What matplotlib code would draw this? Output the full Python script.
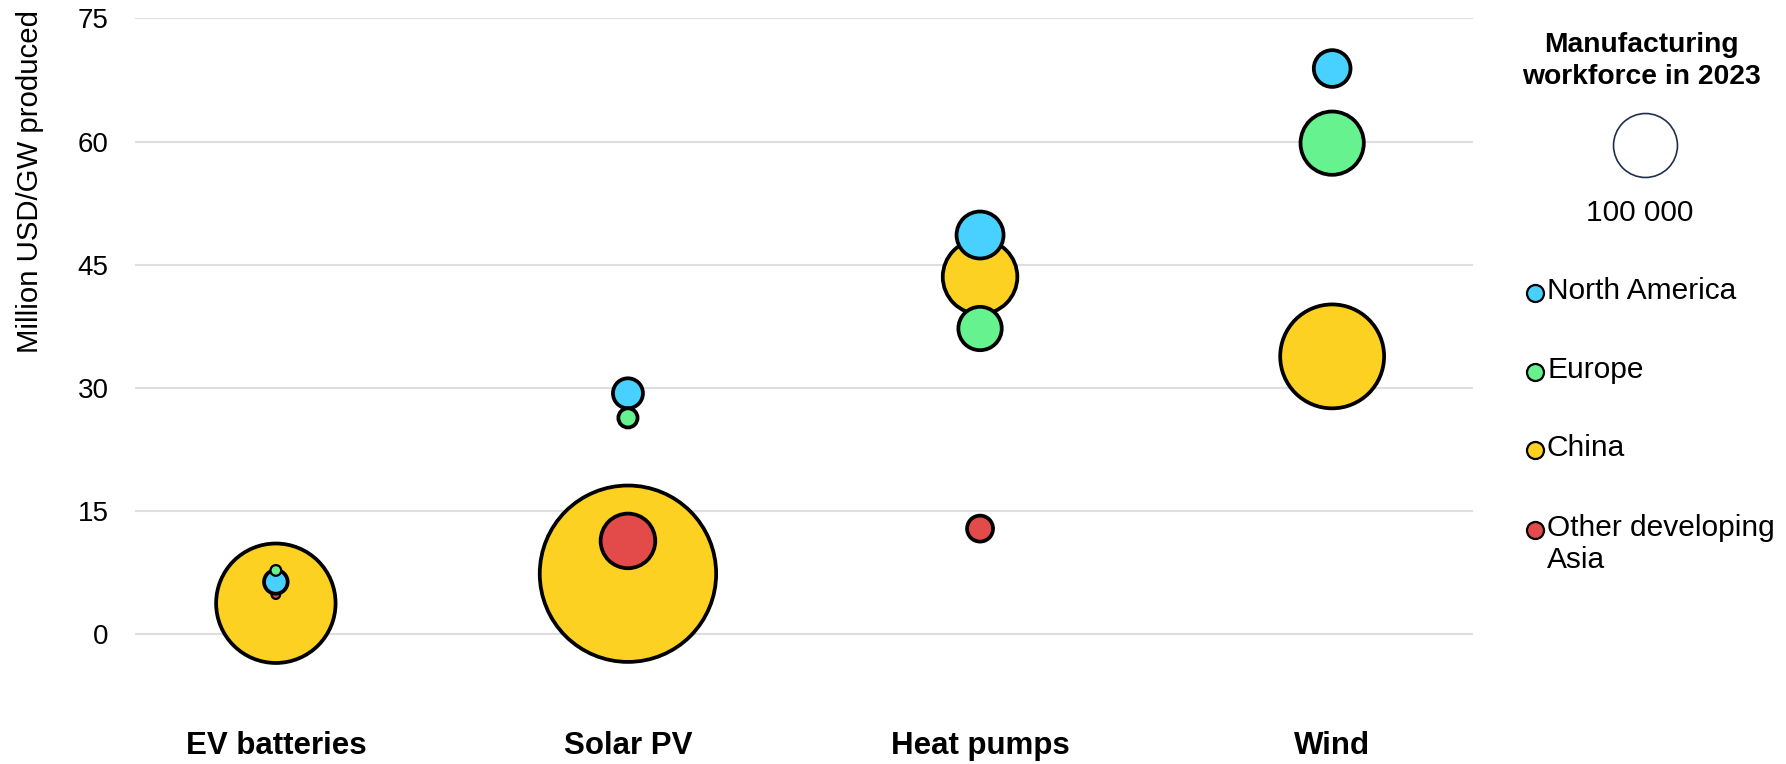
import matplotlib.pyplot as plt

plt.rcParams['font.family'] = ['Liberation Sans', 'DejaVu Sans']

categories = ['EV batteries', 'Solar PV', 'Heat pumps', 'Wind']
regions = ['North America', 'Europe', 'China', 'Other developing\nAsia']
colors = ['#48D1FF', '#66F28F', '#FCD122', '#E34B4B']

# million USD per GW produced
north_america = [6.3, 29.3, 48.6, 68.9]
europe = [7.7, 26.3, 37.2, 59.8]
china = [3.7, 7.3, 43.5, 33.8]
other_asia = [4.75, 11.3, 12.8, None]

# manufacturing workforce 2023, thousands
north_america_jobs = [13.6, 22, 54, 33]
europe_jobs = [2.8, 9, 46, 98]
china_jobs = [349, 761, 136, 264]
other_asia_jobs = [1.8, 73, 16.5, None]

ref_jobs = 100  # legend bubble, thousands
size_per_k = 21.2  # scatter area (pt^2) per thousand workers

W, H = 1786, 764
fig = plt.figure(figsize=(W / 100, H / 100), dpi=100)
ax = fig.add_axes([135 / W, 1 - 732 / H, (1473 - 135) / W, 713.5 / H])

x = [1, 2, 3, 4]
series = [
    (china, china_jobs, colors[2]),
    (other_asia, other_asia_jobs, colors[3]),
    (north_america, north_america_jobs, colors[0]),
    (europe, europe_jobs, colors[1]),
]
for vals, jobs, col in series:
    xs = [xi for xi, v in zip(x, vals) if v is not None]
    ys = [v for v in vals if v is not None]
    ss = [j * size_per_k for j in jobs if j is not None]
    lws = [1.6 if j < 5 else 2.7 for j in jobs if j is not None]
    ax.scatter(xs, ys, s=ss, color=col, edgecolor='black', linewidths=lws, zorder=3)

ax.set_xlim(0.6, 4.4)
ax.set_ylim(-12, 75)
ax.set_yticks([0, 15, 30, 45, 60, 75])
ax.set_xticks(x)
ax.set_xticklabels(categories, fontsize=22.5, fontweight='bold')
ax.tick_params(axis='x', length=0, pad=-1)
ax.tick_params(axis='y', length=0, pad=19, labelsize=20)
ax.grid(axis='y', color='#DEDEDE', linewidth=1.5, zorder=0)
for sp in ax.spines.values():
    sp.set_visible(False)

fig.text(30 / W, 1 - 10 / H, 'Million USD/GW produced', rotation=90,
         va='top', ha='center', fontsize=21.2)

# legend drawn in pixel coordinates
lax = fig.add_axes([0, 0, 1, 1])
lax.set_xlim(0, W)
lax.set_ylim(H, 0)
lax.axis('off')

lax.text(1641, 61, 'Manufacturing\nworkforce in 2023', ha='center', va='center',
         fontsize=20.3, fontweight='bold', linespacing=1.3)
lax.scatter([1645], [145], s=ref_jobs * size_per_k, facecolor='white',
            edgecolor='#1F2F4F', linewidth=1.2)
lax.text(1640, 213, '100 000', ha='center', va='center', fontsize=21.5)

legend_y = [293, 372, 450, 530]
for name, col, ly in zip(regions, colors, legend_y):
    lax.scatter([1535], [ly], s=150, color=col, edgecolor='black', linewidth=1.6)
    lax.text(1547, ly - 16, name, ha='left', va='top', fontsize=21.5, linespacing=1.2)

fig.savefig('out.png', dpi=100)
